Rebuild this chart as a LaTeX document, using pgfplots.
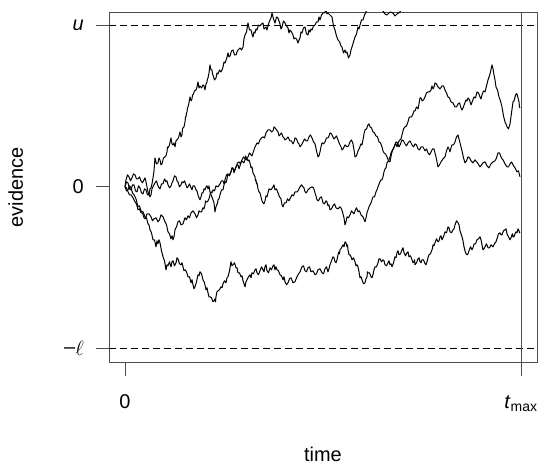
\documentclass[border=0pt]{standalone}
\usepackage{fontspec}
\setmainfont{Liberation Sans}
\usepackage{pgfplots}
\pgfplotsset{compat=1.18}
\begin{document}
\fontsize{20}{24}\selectfont
\begin{tikzpicture}
\begin{axis}[
  scale only axis, width=428bp, height=350.7bp,
  xmin=-16, xmax=412, ymin=-176, ymax=175,
  axis line style={black!70, line width=0.9bp},
  tick style={black!70, line width=0.9bp},
  tick align=outside, major tick length=13bp,
  tick pos=left,
  xtick={0,396}, xticklabels={0,\textit{t}\textsubscript{max}},
  ytick={-162,0,162}, yticklabels={\raisebox{0.25ex}{--}$\ell$,0,\textit{u}},
  yticklabel style={anchor=east, inner sep=0pt, xshift=-12bp, font=\fontsize{20}{24}\selectfont},
  xticklabel style={anchor=base, inner sep=0pt, yshift=-33bp, font=\fontsize{20}{24}\selectfont},
  xlabel={time}, ylabel={evidence},
  label style={font=\fontsize{20}{24}\selectfont},
  xlabel style={at={(axis description cs:0.5,0)}, anchor=base, yshift=-99bp},
  ylabel style={at={([xshift=-86bp]axis description cs:0,0.5)}, anchor=base},
  every axis plot/.append style={line join=round},
]
\coordinate (sw) at (rel axis cs:0,0);
\coordinate (ne) at (rel axis cs:1,1);
% path A (top)
\addplot[black, line width=1bp] coordinates {
(0,0) (1.5,5) (3,4) (4.5,-2) (6,-3) (7.5,2) (9,2) (10.5,-4) (12,-5) (13.5,1) (15,-1) (16.5,-6) (18,-7) (19.5,-2) (21,-3) (22.5,-8) (24,-8) (25,-2) (26,-1) (27,3) (28,9) (29,16) (30,29) (31.5,23) (33,24) (34,29) (35,27) (36,22) (37,23) (38.5,29) (40,30) (41,31) (42,35) (42.5,40) (43,39) (44.5,42) (46,49) (47,43) (48,42) (49,44) (50,40) (51,46) (52,47) (53.5,49) (55,55) (56,50) (57,52) (57.5,58) (58,59) (59,60) (60,65) (60.5,70) (61,70) (61.5,74) (62,75) (62.5,79) (63,80) (64,84) (65,90) (66,86) (67,88) (67.5,92) (68,92) (69.5,96) (71,97) (72,100) (73,105) (74,99) (75,101) (76.5,99) (78,102) (79,101) (80,97) (81,103) (82,105) (82.5,108) (83,109) (84,114) (85,122) (86,117) (87,117) (87.5,113) (88,112) (89.5,107) (91,109) (92,114) (93,113) (94.5,117) (96,115) (97,117) (98,120) (99,125) (100,124) (101.5,128) (103,134) (104,130) (105,131) (106.5,136) (108,137) (109.5,132) (111,132) (112,135) (113,137) (114,138) (115,139) (116.5,137) (118,140) (119,148) (120,152) (121.5,155) (123,164) (124.5,157) (126,157) (127,153) (128,150) (129,155) (130,154) (131,158) (132,157) (133.5,162) (135,161) (136.5,163) (138,164) (139,158) (140,159) (141,160) (142,157) (143.5,163) (145,167) (146,169) (147,174) (148.5,168) (150,164) (151.5,170) (153,169) (154,166) (155,163) (156,158) (157,160) (158.5,166) (160,164) (161.5,161) (163,159) (164,154) (165,157) (166.5,155) (168,152) (169,148) (170,149) (171.5,148) (173,144) (174,147) (175,149) (176,155) (177,154) (178.5,159) (180,160) (181.5,153) (183,152) (184,157) (185,155) (186,158) (187,157) (188.5,161) (190,162) (191.5,165) (193,165) (194,170) (195,167) (196.5,172) (198,174) (199.5,174) (201,177) (202,173) (203,174) (205,172) (207,170) (208.5,161) (210,157) (211.5,151) (213,147) (214,146) (215,144) (216,141) (217,140) (218.5,134) (220,137) (221,134) (222,135) (223.5,129) (225,132) (226,137) (227,140) (228.5,145) (230,150) (231.5,153) (233,160) (234,158) (235,162) (236.5,167) (238,167) (239.5,172) (241,175) (243,181) (245,182) (250,187) (255,179) (258,176) (260,173) (262,172) (265,175) (268,174) (270,171) (272,173) (275,175) (278,182) (285,192) (295,197) (320,205) (350,215) (396,207)
};
% path B (lowest)
\addplot[black, line width=1bp] coordinates {
(0,0) (1.5,-4) (3,-3) (4.5,1) (6,-1) (7.5,-6) (9,-8) (11,-12) (13,-20) (14.5,-19) (16,-24) (18,-25) (20,-30) (21.5,-31) (23,-37) (24,-38) (25,-43) (26.5,-46) (28,-53) (29.5,-53) (31,-60) (32,-54) (33,-57) (34,-53) (35,-56) (36.5,-64) (38,-70) (39.5,-74) (41,-83) (42,-78) (43,-79) (44.5,-75) (46,-80) (47,-75) (48,-74) (49.5,-79) (51,-76) (52,-71) (53,-72) (54.5,-77) (56,-78) (57,-76) (58,-80) (59,-84) (60,-83) (61.5,-85) (63,-90) (64.5,-90) (66,-96) (67,-93) (68,-98) (69,-102) (70,-100) (71.5,-95) (73,-88) (74,-89) (75,-85) (76.5,-87) (78,-93) (79.5,-96) (81,-103) (82,-101) (83,-106) (84,-110) (85,-110) (86.5,-111) (88,-115) (89,-114) (90,-112) (90.5,-115) (91,-110) (92,-105) (93,-104) (94.5,-103) (96,-100) (97,-101) (98,-97) (99.5,-94) (101,-96) (102,-91) (103,-90) (104.5,-84) (106,-75) (107,-79) (108,-78) (109.5,-76) (111,-81) (112,-81) (113,-86) (114.5,-86) (116,-90) (117,-89) (118,-94) (119,-97) (120,-100) (121,-95) (122,-93) (123.5,-90) (125,-88) (126,-91) (127,-86) (128.5,-87) (130,-83) (131,-82) (132,-86) (133.5,-88) (135,-84) (136.5,-80) (138,-83) (139,-85) (140,-80) (141,-78) (142,-84) (143.5,-86) (145,-81) (146.5,-83) (148,-79) (149,-78) (150,-83) (151,-80) (152,-83) (153.5,-84) (155,-88) (156.5,-89) (158,-93) (159,-90) (160,-95) (161.5,-98) (163,-96) (164.5,-92) (166,-91) (168,-96) (170,-95) (171.5,-91) (173,-88) (175,-85) (177,-80) (178.5,-79) (180,-84) (181.5,-85) (183,-81) (184.5,-80) (186,-85) (188,-84) (190,-88) (191.5,-87) (193,-83) (195,-82) (197,-86) (198.5,-87) (200,-82) (201.5,-80) (203,-85) (204,-82) (205,-78) (206.5,-74) (208,-70) (209,-71) (210,-75) (211,-76) (212,-73) (213,-68) (214,-65) (214.5,-67) (215,-63) (216.5,-61) (218,-58) (219,-60) (220,-55) (221,-56) (222,-60) (222.5,-58) (223,-63) (224,-68) (225,-68) (226,-70) (227,-73) (228.5,-71) (230,-75) (231,-79) (232,-78) (233,-80) (234,-85) (234.5,-88) (235,-91) (236,-90) (237,-93) (238.5,-97) (240,-96) (241,-92) (242,-90) (242.5,-85) (243,-86) (244.5,-86) (246,-90) (247,-91) (248,-88) (249,-83) (250,-80) (251.5,-80) (253,-76) (254,-72) (255,-72) (256.5,-75) (258,-73) (259,-74) (260,-78) (261.5,-79) (263,-76) (264,-74) (265,-78) (266,-77) (267,-80) (268.5,-76) (270,-70) (271,-71) (272,-66) (273,-64) (274,-68) (275.5,-67) (277,-63) (278,-61) (279,-66) (280.5,-69) (282,-66) (283,-65) (284,-70) (285.5,-69) (287,-73) (288,-76) (289,-75) (289.5,-73) (290,-78) (291.5,-76) (293,-72) (294,-71) (295,-75) (296,-76) (297,-73) (298.5,-73) (300,-77) (301,-78) (302,-75) (303,-71) (304,-68) (305.5,-67) (307,-63) (307.5,-61) (308,-58) (309,-59) (310,-56) (311.5,-52) (313,-55) (314,-54) (315,-50) (316,-49) (317,-53) (318.5,-50) (320,-45) (321.5,-46) (323,-40) (324,-41) (325,-45) (326.5,-46) (328,-43) (329,-42) (330,-38) (331.5,-34) (333,-36) (334,-38) (335,-44) (336,-47) (337,-50) (338,-54) (339,-60) (340.5,-66) (342,-68) (343,-67) (344,-64) (345.5,-60) (347,-63) (348,-61) (349,-57) (350.5,-57) (352,-53) (353.5,-52) (355,-50) (356,-53) (357,-58) (357.5,-61) (358,-63) (359,-62) (360,-60) (361.5,-57) (363,-61) (364.5,-61) (366,-58) (368,-60) (370,-56) (371,-55) (372,-52) (373.5,-47) (375,-46) (376,-48) (377,-48) (378.5,-44) (380,-43) (381,-42) (382,-47) (383.5,-50) (385,-53) (386,-51) (387,-48) (387.5,-47) (388,-50) (389,-50) (390,-47) (391,-45) (392,-46) (393,-42) (394,-44) (394.5,-46) (395,-45)
};
% path C
\addplot[black, line width=1bp] coordinates {
(0,0) (0.5,4) (1,7) (2.5,12) (4,10) (5.5,6) (7,9) (8.5,13) (10,12) (11.5,8) (13,8) (14.5,10) (16,6) (17.5,4) (19,7) (20,9) (21,5) (22,0) (23,-5) (24,-8) (25,-10) (26,-8) (27,-2) (28.5,1) (30,4) (31.5,6) (33,1) (34,-1) (35,-2) (36.5,3) (38,3) (39.5,8) (41,5) (42,6) (43,2) (44.5,-1) (46,1) (47,4) (48,6) (49.5,11) (51,10) (52,6) (53,5) (54.5,0) (56,2) (57,5) (58,4) (59.5,6) (61,2) (62,-1) (63,0) (64.5,3) (66,-1) (67,-3) (68,1) (69.5,1) (71,-3) (72,-4) (73,-8) (74,-11) (75,-13) (76,-10) (77,-6) (78,-6) (79,-2) (80,-3) (81,0) (82,1) (83,-2) (84,1) (85,-5) (86.5,-9) (88,-13) (89,-16) (90,-25) (91,-20) (92,-17) (92.5,-17) (93,-13) (94,-12) (95,-8) (96.5,-3) (98,-3) (99,2) (100,5) (101,4) (102,8) (102.5,11) (103,12) (104.5,12) (106,15) (107,19) (108,19) (109,14) (110,17) (111.5,21) (113,22) (114,18) (115,21) (116.5,26) (118,25) (119,24) (120,27) (120.5,31) (121,30) (122,28) (123,26) (124,27) (125,24) (126,19) (127,20) (127.5,17) (128,14) (129,12) (130,10) (130.5,6) (131,7) (131.5,3) (132,4) (133,-2) (134,-5) (135,-6) (136,-10) (137,-14) (138,-16) (139,-17) (140,-14) (141,-9) (142,-10) (143,-6) (144,-2) (146,-3) (148,0) (149,2) (150,-3) (151.5,-2) (153,-6) (154.5,-10) (156,-12) (157,-18) (158,-20) (159.5,-16) (161,-16) (162.5,-12) (164,-14) (165.5,-11) (167,-8) (168.5,-9) (170,-5) (172.5,-5) (175,0) (176.5,2) (178,0) (179,-1) (180,-5) (181.5,-6) (183,-3) (185,-1) (187,0) (188.5,-1) (190,-6) (191,-9) (192,-13) (193.5,-14) (195,-11) (196.5,-10) (198,-16) (199.5,-17) (201,-14) (202,-15) (203,-19) (204,-18) (205,-23) (206.5,-22) (208,-19) (209.5,-17) (211,-21) (213,-22) (215,-20) (216.5,-22) (218,-27) (219,-31) (220,-38) (221,-35) (222,-30) (223.5,-31) (225,-28) (226.5,-24) (228,-26) (229,-27) (230,-24) (231.5,-21) (233,-25) (234.5,-24) (236,-28) (238,-30) (240,-35) (241,-31) (242,-26) (243,-23) (244,-20) (246,-16) (248,-10) (249.5,-10) (251,-5) (252,-3) (253,0) (254.5,4) (256,7) (257,7) (258,10) (259,15) (260,18) (261,19) (262,24) (263.5,26) (265,30) (266,34) (267,36) (268.5,38) (270,42) (271,43) (272,40) (273.5,45) (275,47) (276,48) (277,52) (278.5,58) (280,60) (281.5,61) (283,65) (284,69) (285,70) (286.5,70) (288,73) (289,76) (290,76) (291.5,80) (293,78) (294,83) (295,89) (296,89) (297,86) (298.5,87) (300,90) (301.5,94) (303,95) (304.5,95) (306,97) (307,101) (308,98) (309,100) (310,104) (311.5,103) (313,100) (315,98) (317,101) (318.5,101) (320,97) (321.5,94) (323,90) (324.5,89) (326,85) (328,84) (330,80) (331.5,80) (333,83) (334.5,84) (336,79) (337,77) (338,79) (339.5,83) (341,87) (342,86) (343,89) (344.5,87) (346,82) (347.5,86) (349,90) (350.5,89) (352,95) (353.5,94) (355,90) (356,88) (357,92) (358.5,96) (360,95) (361.5,101) (363,107) (365,113) (367,122) (368,118) (369,112) (370,107) (371,100) (372.5,97) (374,90) (375.5,86) (377,80) (378.5,71) (380,65) (381,63) (382,60) (383.5,58) (385,63) (386.5,74) (388,85) (389,86) (390,90) (391,93) (392,93) (393,89) (394,85) (394.5,80) (395,79)
};
% path D
\addplot[black, line width=1bp] coordinates {
(0,0) (1.5,-1) (3,-5) (4.5,-8) (6,-8) (8,-11) (10,-15) (11.5,-17) (13,-23) (14.5,-22) (16,-26) (17.5,-26) (19,-31) (20.5,-32) (22,-27) (24,-27) (26,-30) (27.5,-34) (29,-32) (31,-31) (33,-35) (34.5,-33) (36,-28) (38,-30) (40,-35) (41.5,-38) (43,-45) (44.5,-47) (46,-52) (47,-49) (48,-53) (49,-50) (50,-43) (51.5,-40) (53,-35) (54.5,-34) (56,-38) (58,-37) (60,-31) (61.5,-33) (63,-29) (64.5,-31) (66,-26) (68,-24) (70,-27) (71.5,-31) (73,-28) (74,-24) (75,-25) (76.5,-25) (78,-21) (79,-22) (80,-18) (80.5,-14) (81,-15) (82.5,-15) (84,-12) (85,-8) (86,-5) (87,-6) (88,-3) (89.5,-4) (91,1) (93,0) (95,3) (96.5,6) (98,6) (99,3) (100,7) (101.5,12) (103,13) (104.5,11) (106,15) (107,19) (108,18) (109.5,16) (111,20) (112.5,24) (114,25) (115.5,23) (117,27) (118.5,30) (120,28) (121.5,27) (123,30) (124.5,34) (126,32) (127,31) (128,34) (130,40) (132,44) (133.5,43) (135,47) (136.5,49) (138,50) (139.5,49) (141,54) (143,57) (145,57) (146.5,55) (148,56) (149,60) (150,59) (151.5,57) (153,55) (154,51) (155,52) (156.5,54) (158,50) (159,49) (160,47) (161.5,48) (163,50) (164,48) (165,46) (166.5,46) (168,43) (169,45) (170,49) (171.5,48) (173,44) (174,43) (175,40) (176.5,42) (178,45) (179.5,48) (181,46) (182.5,46) (184,50) (185.5,52) (187,49) (188.5,45) (190,43) (191.5,36) (193,30) (194,31) (195,35) (196,40) (197,44) (198.5,43) (200,45) (201.5,49) (203,49) (204,51) (205,54) (206.5,53) (208,50) (209,48) (210,49) (211.5,51) (213,47) (214.5,43) (216,40) (217,37) (218,38) (220,42) (222,40) (223.5,41) (225,45) (226.5,47) (228,43) (229,37) (230,30) (231.5,31) (233,36) (234.5,39) (236,43) (237,42) (238,47) (239,53) (240,57) (241.5,58) (243,62) (244,63) (245,60) (246.5,59) (248,55) (249.5,54) (251,51) (252.5,50) (254,45) (255.5,44) (257,40) (258,36) (259,34) (260.5,33) (262,30) (263.5,26) (265,25) (266.5,33) (268,38) (269.5,41) (271,45) (272.5,44) (274,40) (275.5,43) (277,47) (278.5,46) (280,43) (281.5,41) (283,44) (285,46) (287,42) (288.5,40) (290,43) (291.5,42) (293,38) (294.5,37) (296,40) (298,40) (300,36) (301.5,38) (303,34) (304.5,32) (306,35) (307.5,38) (309,38) (311,30) (313,20) (314.5,22) (316,25) (318,28) (320,30) (321.5,36) (323,40) (324,38) (325,35) (326,39) (327,42) (328.5,42) (330,45) (331.5,50) (333,52) (334,48) (335,44) (336,40) (337,36) (338.5,29) (340,24) (341.5,26) (343,30) (344.5,29) (346,26) (348,24) (350,27) (352.5,24) (355,20) (356.5,22) (358,24) (360,25) (362,21) (364,19) (366,23) (368,25) (370,26) (371.5,29) (373,34) (374.5,34) (376,30) (377,28) (378,27) (380,23) (382,20) (383.5,20) (385,23) (386.5,25) (388,22) (390,19) (392,15) (393.5,16) (395,10)
};
\addplot[black, line width=0.8bp, dash pattern=on 7bp off 4bp] coordinates {(-16,162) (412,162)};
\addplot[black, line width=0.8bp, dash pattern=on 7bp off 4bp] coordinates {(-16,-162) (412,-162)};
\addplot[black!70, line width=0.9bp] coordinates {(396,-176) (396,175)};
\end{axis}
\pgfresetboundingbox
\path ([shift={(-109bp,-103.3bp)}]sw) rectangle ([shift={(1bp,12bp)}]ne);
\end{tikzpicture}
\end{document}
